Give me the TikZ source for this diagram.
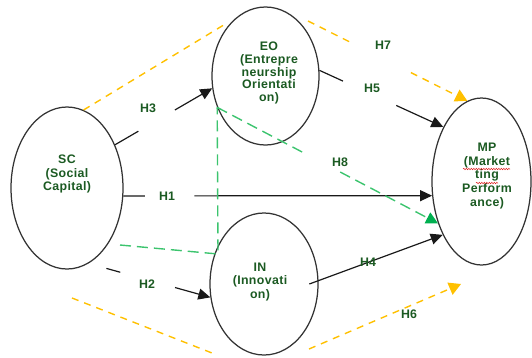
\documentclass[tikz,border=0pt]{standalone}
\usepackage{fontspec}
\setmainfont{Liberation Sans}
\usetikzlibrary{arrows.meta,calc,shapes.geometric,decorations.pathmorphing}
\definecolor{Ink}{HTML}{333333}
\definecolor{Leaf}{HTML}{1B5A22}
\definecolor{Amber}{HTML}{FFC000}
\definecolor{Mint}{HTML}{3CC46E}
\definecolor{MintDark}{HTML}{00B050}
\definecolor{Squiggle}{HTML}{E02020}
\tikzset{
  construct/.style={draw=Ink,ellipse,line width=1.25pt,inner sep=0pt},
  ctext/.style={align=center,font=\fontsize{12.4}{14}\selectfont\bfseries\addfontfeatures{LetterSpace=3},text=Leaf,inner sep=0pt},
  hyp/.style={font=\fontsize{12.4}{14}\selectfont\bfseries,text=Leaf,inner sep=1pt},
  arr/.style={-{Triangle[length=12bp,width=11bp]},draw=black!90,line width=1.2pt},
  gold/.style={draw=Amber,line width=1.4pt,dash pattern=on 7bp off 6bp},
  goldarr/.style={gold,-{Triangle[length=12bp,width=13bp]}},
  mint/.style={draw=Mint,line width=1.4pt,dash pattern=on 11bp off 6bp},
  mintarr/.style={mint,-{Triangle[length=12bp,width=12bp,color=MintDark]}},
  squiggly/.style={draw=Squiggle,line width=0.5pt,decorate,decoration={snake,amplitude=0.7bp,segment length=2.5bp}}
}

\begin{document}
\begin{tikzpicture}[x=1bp,y=-1bp]
  \useasboundingbox (0,0) rectangle (532,357);

  % constructs
  \node[construct,minimum width=112bp,minimum height=162bp] (sc) at (67,188) {};
  \node[construct,minimum width=107bp,minimum height=138bp] (eo) at (265.5,76) {};
  \node[construct,minimum width=108bp,minimum height=142bp] (inn) at (264,284) {};
  \node[construct,minimum width=99bp,minimum height=167bp] (mp) at (481.5,181.5) {};

  \node[ctext] (sctext) at (67,174) {SC\\(Social\\Capital)};
  \node[ctext,font=\fontsize{12.4}{12.7}\selectfont\bfseries\addfontfeatures{LetterSpace=3}] (eotext) at (269,73) {EO\\(Entrepre\\neurship\\Orientati\\on)};
  \node[ctext] (intext) at (260,282) {IN\\(Innovati\\on)};
  \node[ctext] (mptext) at (487,176) {MP\\(Market\\ting\\Perform\\ance)};
  \draw[squiggly] (463,169) -- (510,169);
  \draw[squiggly] (476,183) -- (498,183);

  % free ends
  \coordinate (h7start) at (308,21);
  \coordinate (h6start) at (309,349);
  \coordinate (h6end) at (461,284);
  \coordinate (topend) at (227,23);
  \coordinate (lowa) at (72,298);
  \coordinate (lowb) at (212,353);
  \coordinate (gstart) at (120,245);
  \coordinate (gknee) at (218,254);

  % direct paths
  \draw[arr] (sc.42) -- ($(sc.42)!0.24!(eo.193)$) ($(sc.42)!0.616!(eo.193)$) -- (eo.193);
  \draw[arr] (sc.-8) -- ($(sc.-8)!0.07!(mp.196)$) ($(sc.-8)!0.23!(mp.196)$) -- (mp.196);
  \draw[arr] ($(sc.-74)!0.146!(inn.194)$) -- ($(sc.-74)!0.26!(inn.194)$) ($(sc.-74)!0.71!(inn.194)$) -- (inn.194);
  \draw[arr] (eo.6) -- ($(eo.6)!0.19!(mp.125)$) ($(eo.6)!0.62!(mp.125)$) -- (mp.125);
  \draw[arr] ($(inn.center)!0.83!(inn.east)$) -- (mp.234);

  % mediation
  \draw[gold] (sc.78) -- (topend);
  \draw[gold] (lowa) -- (lowb);
  \draw[goldarr] (h7start) -- ($(h7start)!0.29!(mp.100)$) ($(h7start)!0.646!(mp.100)$) -- (mp.100);
  \draw[goldarr] (h6start) -- (h6end);
  \draw[mint] (gstart) -- (gknee) -- (eo.213);
  \draw[mintarr] (eo.213) -- ($(eo.213)!0.40!(mp.224)$) ($(eo.213)!0.557!(mp.224)$) -- (mp.224);

  % hypotheses
  \node[hyp] (h3) at (148,108) {H3};
  \node[hyp] (h1) at (167,196) {H1};
  \node[hyp] (h2) at (147,284) {H2};
  \node[hyp] (h5) at (372,88) {H5};
  \node[hyp] (h7) at (383,45) {H7};
  \node[hyp] (h8) at (340,162) {H8};
  \node[hyp] (h4) at (368,262) {H4};
  \node[hyp] (h6) at (409,314) {H6};
\end{tikzpicture}
\end{document}
